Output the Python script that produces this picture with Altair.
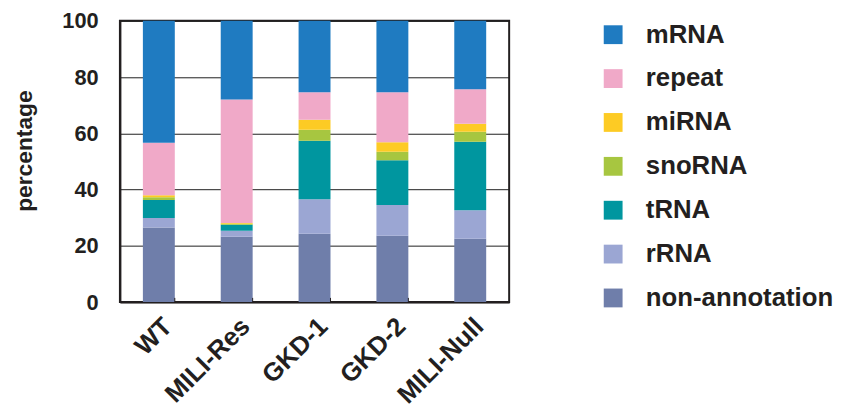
import altair as alt
import pandas as pd

samples = ["WT", "MILI-Res", "GKD-1", "GKD-2", "MILI-Null"]
categories = ["mRNA", "repeat", "miRNA", "snoRNA", "tRNA", "rRNA", "non-annotation"]
colors = ["#1f7bc1", "#f0a9c8", "#fdcb24", "#a7c640", "#00969f", "#9ba6d3", "#6f7eaa"]

non_annotation = [26.5, 23.2, 24.3, 23.6, 22.5]
rRNA = [3.4, 2.2, 12.3, 10.9, 10.2]
tRNA = [6.4, 2.1, 20.8, 15.9, 24.3]
snoRNA = [1.0, 0.4, 3.9, 3.1, 3.6]
miRNA = [0.7, 0.2, 3.5, 3.3, 2.8]
repeat = [18.7, 43.9, 9.8, 17.8, 12.3]
mRNA = [43.3, 28.0, 25.4, 25.4, 24.3]

series = {
    "non-annotation": non_annotation,
    "rRNA": rRNA,
    "tRNA": tRNA,
    "snoRNA": snoRNA,
    "miRNA": miRNA,
    "repeat": repeat,
    "mRNA": mRNA,
}
stack_order = ["non-annotation", "rRNA", "tRNA", "snoRNA", "miRNA", "repeat", "mRNA"]

rows = []
for cat in stack_order:
    for s, v in zip(samples, series[cat]):
        rows.append({"sample": s, "type": cat, "value": v, "ord": stack_order.index(cat)})
df = pd.DataFrame(rows)

FONT = "Liberation Sans"
INK = "#231f20"

xscale = alt.Scale(domain=samples, paddingInner=0.59, paddingOuter=0.295)

bars = alt.Chart(df).mark_bar().encode(
    x=alt.X("sample:N", sort=samples, scale=xscale,
            axis=alt.Axis(title=None, labelAngle=-45, labelFont=FONT, labelFontSize=26,
                          labelFontWeight="bold", labelColor=INK, labelPadding=11,
                          ticks=False, domainColor=INK, domainWidth=2, grid=False)),
    y=alt.Y("value:Q", stack="zero", scale=alt.Scale(domain=[0, 100], nice=False),
            axis=alt.Axis(title="percentage", values=list(range(0, 101, 10)),
                          labelExpr="datum.value % 20 == 0 ? datum.label : ''",
                          labelFont=FONT, labelFontSize=22, labelFontWeight="bold",
                          labelColor=INK, labelPadding=22, ticks=False,
                          domainColor=INK, domainWidth=2,
                          grid=True, gridColor="#1e1e1e", gridWidth=1,
                          titleFont=FONT, titleFontSize=23, titleFontWeight="bold",
                          titleColor=INK, titleX=-96, titleY=131,
                          titleAlign="center", titleBaseline="middle", titleAngle=270)),
    color=alt.Color("type:N", scale=alt.Scale(domain=categories, range=colors),
                    legend=alt.Legend(title=None, orient="none", legendX=485, legendY=1,
                                      symbolType="square", symbolSize=361,
                                      symbolStrokeWidth=0, labelFont=FONT,
                                      labelFontSize=26, labelFontWeight="bold",
                                      labelColor=INK, labelOffset=20, labelLimit=400,
                                      rowPadding=18.3, padding=0)),
    order=alt.Order("ord:Q", sort="ascending"),
)

tick_df = pd.DataFrame({"sample": samples[:-1]})
ticks = alt.Chart(tick_df).mark_rule(color=INK, strokeWidth=1).encode(
    x=alt.X("sample:N", sort=samples, scale=xscale, bandPosition=1),
    y=alt.datum(0),
    y2=alt.datum(1.5),
)

chart = alt.layer(bars, ticks).properties(
    width=393, height=284,
    autosize=alt.AutoSizeParams(type="none"),
    padding={"left": 113, "top": 11, "right": 330, "bottom": 110},
).configure_view(stroke=INK, strokeWidth=2)

chart.save("out.html", embed_options={"renderer": "svg", "actions": False})
